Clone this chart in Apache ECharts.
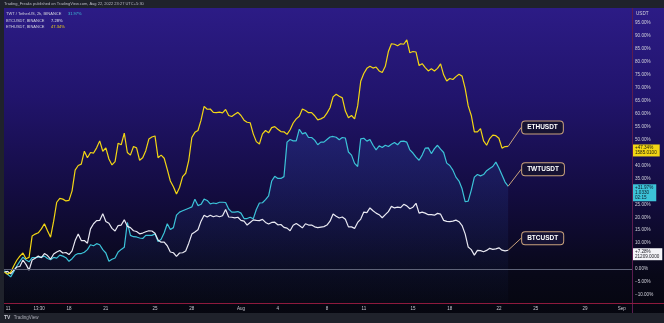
<!DOCTYPE html>
<html>
<head>
<meta charset="utf-8">
<script src="https://cdn.jsdelivr.net/npm/echarts@6.0.0/dist/echarts.min.js"></script>
<style>
  html, body { margin: 0; padding: 0; background: #1f222b; }
  #chart { width: 664px; height: 323px; }
</style>
</head>
<body>
<div id="chart"></div>
<script>
// Percent change since the first bar, one value every 6 hours.
// Time is counted in hours from "July 0" 00:00 (UTC+5:30), so Jul 18 00:00 = 432.
const START_HOUR = 306;
const STEP_HOURS = 6;

const twtChange = [
  -0.6,-2.0,-3.0,-1.0,1.2,3.0,4.6,3.5,2.8,4.4,
  4.4,4.6,4.6,5.0,4.1,3.6,4.5,4.2,5.4,5.0,
  4.4,3.0,4.0,5.4,6.0,6.0,6.5,7.5,9.4,9.0,
  9.8,9.4,7.5,6.2,3.0,3.8,4.3,6.6,7.6,8.4,
  18.0,13.0,12.5,12.4,12.0,11.8,13.0,13.0,13.0,13.6,
  10.6,11.5,14.0,17.5,15.3,16.0,20.8,22.0,22.5,23.0,
  23.5,24.0,27.0,24.5,25.0,27.0,26.5,25.2,25.5,25.3,
  25.8,25.8,25.7,23.2,22.0,22.0,22.2,21.6,19.5,19.5,
  20.0,19.4,23.0,25.5,25.6,26.8,28.3,34.0,35.8,35.0,
  35.0,35.7,49.0,50.0,49.5,49.5,54.0,52.2,52.7,50.8,
  50.8,49.8,48.0,49.0,49.0,50.0,51.0,51.2,50.9,49.9,
  50.8,50.6,45.2,44.0,40.8,39.6,50.3,50.5,49.4,50.0,
  47.8,46.0,47.6,46.9,47.8,47.3,48.2,48.9,48.0,49.3,
  49.4,49.0,46.0,44.8,43.2,42.0,44.0,46.7,46.8,44.6,
  46.5,47.8,46.3,45.0,40.9,40.0,38.2,35.5,34.0,31.0,
  26.0,26.2,30.5,35.5,36.5,36.0,36.5,38.0,38.8,39.6,
  41.3,39.0,36.3,33.6,31.97
];

const btcChange = [
  -1.2,-0.9,-1.8,-0.5,0.8,1.0,3.5,1.8,-0.4,3.5,
  4.2,5.0,4.4,6.0,5.2,3.8,5.8,6.6,7.2,6.2,
  6.4,5.6,7.0,11.0,13.5,11.0,11.0,10.0,15.5,17.5,
  18.7,18.8,21.4,18.4,17.7,15.7,14.7,16.8,17.0,19.0,
  16.5,16.0,14.8,14.5,13.6,13.9,14.4,14.8,14.7,13.8,
  11.2,10.4,10.4,9.0,6.6,6.3,4.9,6.2,6.3,7.0,
  10.0,13.5,14.3,15.2,18.5,20.8,20.1,20.8,20.2,20.6,
  20.2,20.6,23.0,20.1,20.0,19.8,20.0,18.8,18.5,17.0,
  18.0,19.0,18.8,18.7,19.2,18.0,17.4,18.0,18.1,17.1,
  17.2,16.1,15.8,14.8,16.9,17.6,16.8,15.9,17.5,17.0,
  17.0,16.3,16.0,16.2,16.4,17.0,18.5,21.3,20.4,19.7,
  20.1,19.2,16.3,16.3,15.7,18.0,19.3,22.0,21.8,23.6,
  22.5,21.6,21.0,19.8,21.0,22.2,24.2,23.6,23.9,23.7,
  25.0,24.4,23.3,23.9,25.4,21.6,22.0,21.6,21.0,21.0,
  20.8,21.5,21.2,18.8,18.4,18.3,18.5,18.9,18.3,16.8,
  13.6,8.5,7.5,5.4,7.2,7.1,6.7,7.2,8.0,7.6,
  7.8,8.2,7.3,7.0,7.28
];

const ethChange = [
  -1.2,-2.0,-1.2,1.2,3.4,5.0,6.2,4.0,4.5,12.8,
  13.5,14.0,15.5,17.5,14.8,12.3,18.5,25.8,27.3,27.0,
  26.3,26.5,30.2,38.2,40.0,40.5,45.5,43.0,45.0,44.8,
  46.8,49.5,45.5,46.8,42.5,40.2,41.5,48.6,48.0,52.5,
  45.0,44.0,47.3,46.8,42.0,43.0,45.7,50.2,51.0,51.4,
  43.0,44.0,42.8,38.5,34.0,31.8,29.0,31.5,35.7,37.0,
  42.0,50.8,52.8,53.5,57.5,62.8,61.7,61.8,60.5,60.4,
  60.6,60.3,61.6,59.3,58.9,59.8,60.5,59.3,57.5,56.7,
  56.5,52.2,49.2,48.3,52.2,53.5,52.6,54.6,55.0,54.0,
  53.1,53.0,52.0,53.8,56.4,58.0,59.0,61.8,61.2,60.4,
  60.4,59.2,57.6,58.0,58.6,60.2,62.3,66.5,67.5,66.7,
  66.1,61.0,58.4,59.3,58.0,63.0,72.5,75.5,77.5,78.3,
  77.6,78.0,76.5,75.9,78.3,84.0,87.0,86.8,86.2,87.0,
  86.8,88.5,83.5,84.0,83.8,78.6,79.3,77.8,76.5,77.3,
  76.5,77.5,79.2,75.0,72.6,73.6,73.2,74.3,75.2,74.5,
  69.8,63.0,59.3,53.0,53.0,54.2,49.5,47.8,50.4,51.7,
  51.5,50.5,46.7,47.3,47.34
];

// Last traded price / extra line shown in each price tag
const twtTagLines = ['1.0330', '02:15'];
const btcTagLines = ['21209.0000'];
const ethTagLines = ['1585.0100'];

// Time-axis labels (hours) and their texts
const xTickHours = [313, 373.5, 432, 504, 600, 672, 768, 840, 936, 1008, 1104, 1176, 1272, 1344, 1440, 1512];
const xTickLabels = ['11', '13:30', '18', '21', '25', '28', 'Aug', '4', '8', '11', '15', '18', '22', '25', '29', 'Sep'];

// Percent-scale labels (values hidden behind price tags are left out)
const yTickValues = [-10, -5, 0, 10, 15, 20, 25, 35, 40, 50, 55, 60, 65, 70, 75, 80, 85, 90, 95];

const FONT = "'Liberation Sans', 'DejaVu Sans', sans-serif";
const TWT_COLOR = '#3cc3d8';
const BTC_COLOR = '#e9e9f2';
const ETH_COLOR = '#f2d614';

const fmtPct = v => (v >= 0 ? '+' : '') + v.toFixed(2) + '%';
const last = arr => arr[arr.length - 1];

// Every point gets a tiny symbol so the final one can carry its callout label.
function buildData(values, calloutText) {
  return values.map((v, i) => {
    const point = [START_HOUR + i * STEP_HOURS, v];
    if (i === values.length - 1) {
      return {
        value: point,
        label: {
          show: true,
          formatter: calloutText,
          position: 'right',
          distance: 0,
          color: '#ffffff',
          fontFamily: FONT,
          fontWeight: 'bold',
          fontSize: 6.5,
          backgroundColor: '#161233',
          borderColor: '#c9a27c',
          borderWidth: 1,
          borderRadius: 3,
          padding: [3, 5, 2, 5]
        },
        labelLine: { show: true }
      };
    }
    return point;
  });
}

function priceTag(value, lines, bg, fg) {
  return {
    yAxis: value,
    lineStyle: { color: 'rgba(0,0,0,0)', width: 0 },
    label: {
      show: true,
      position: 'end',
      distance: 1,
      formatter: [fmtPct(value)].concat(lines).join('\n'),
      backgroundColor: bg,
      color: fg,
      fontFamily: FONT,
      fontSize: 4.6,
      lineHeight: 5,
      padding: [1, 3, 1, 2],
      align: 'left',
      verticalAlign: 'top',
      offset: [0, -2]
    }
  };
}

function lineSeries(name, values, color, calloutDy, extra) {
  return Object.assign({
    name: name,
    type: 'line',
    data: buildData(values, name),
    showSymbol: true,
    showAllSymbol: true,
    symbol: 'circle',
    symbolSize: 0.01,
    clip: false,
    lineStyle: { color: color, width: 1.2 },
    itemStyle: { color: color },
    label: { show: false },
    labelLayout: { dx: 14, dy: calloutDy },
    labelLine: { show: true, lineStyle: { color: '#c9a27c', width: 1 } },
    emphasis: { disabled: true },
    silent: true
  }, extra || {});
}

const chart = echarts.init(document.getElementById('chart'), null, { renderer: 'canvas', width: 664, height: 323 });

const option = {
  animation: false,
  backgroundColor: {
    type: 'linear', x: 0, y: 0, x2: 0, y2: 1,
    colorStops: [
      { offset: 0.00, color: '#2d1c88' },
      { offset: 0.30, color: '#21146c' },
      { offset: 0.60, color: '#130c40' },
      { offset: 0.85, color: '#080818' },
      { offset: 1.00, color: '#05060d' }
    ]
  },
  grid: { left: 4, right: 32, top: 8, bottom: 20, containLabel: false },
  xAxis: {
    type: 'value',
    min: 305,
    max: 1532,
    axisLine: { show: false },
    axisTick: { show: false },
    splitLine: { show: false },
    axisLabel: {
      customValues: xTickHours,
      formatter: v => {
        const i = xTickHours.indexOf(v);
        return i >= 0 ? xTickLabels[i] : '';
      },
      color: '#c9c9d2',
      fontFamily: FONT,
      fontSize: 4.5,
      margin: 3
    }
  },
  yAxis: {
    type: 'value',
    position: 'right',
    min: -13.1,
    max: 100.8,
    axisLine: { show: false },
    axisTick: { show: false },
    splitLine: { show: false },
    axisLabel: {
      customValues: yTickValues,
      formatter: v => (v < 0 ? '\u2212' : '') + Math.abs(v).toFixed(2) + '%',
      color: '#d2d2dc',
      fontFamily: FONT,
      fontSize: 4.6,
      align: 'left',
      margin: 3
    }
  },
  series: [
    lineSeries('TWTUSDT', twtChange, TWT_COLOR, -17, {
      z: 2,
      areaStyle: {
        origin: 'start',
        color: {
          type: 'linear', x: 0, y: 0, x2: 0, y2: 1,
          colorStops: [
            { offset: 0, color: 'rgba(50,90,190,0.32)' },
            { offset: 1, color: 'rgba(50,90,190,0.03)' }
          ]
        }
      },
      markLine: {
        silent: true,
        symbol: ['none', 'none'],
        animation: false,
        data: [
          { yAxis: 0, lineStyle: { color: '#5f6378', width: 1, type: 'solid' }, label: { show: false } },
          priceTag(last(twtChange), twtTagLines, '#3cc3d8', '#0c1a2a')
        ]
      }
    }),
    lineSeries('BTCUSDT', btcChange, BTC_COLOR, -12, {
      z: 3,
      markLine: {
        silent: true,
        symbol: ['none', 'none'],
        animation: false,
        data: [priceTag(last(btcChange), btcTagLines, '#f4f4f8', '#1a1a22')]
      }
    }),
    lineSeries('ETHUSDT', ethChange, ETH_COLOR, -19, {
      z: 4,
      markLine: {
        silent: true,
        symbol: ['none', 'none'],
        animation: false,
        data: [priceTag(last(ethChange), ethTagLines, '#f2d614', '#1a1a10')]
      }
    })
  ],
  graphic: [
    // frame bars
    { type: 'rect', z: 100, shape: { x: 0, y: 0, width: 664, height: 8 }, style: { fill: '#1f222b' }, silent: true },
    { type: 'rect', z: 100, shape: { x: 0, y: 8, width: 4, height: 305 }, style: { fill: '#1f222b' }, silent: true },
    { type: 'rect', z: 100, shape: { x: 0, y: 313, width: 664, height: 10 }, style: { fill: '#1f222b' }, silent: true },
    // pane separators
    { type: 'line', z: 90, shape: { x1: 632.5, y1: 8, x2: 632.5, y2: 313 }, style: { stroke: '#5b1c4f', lineWidth: 1 }, silent: true },
    { type: 'line', z: 90, shape: { x1: 4, y1: 303.5, x2: 664, y2: 303.5 }, style: { stroke: '#8e1a3d', lineWidth: 1 }, silent: true },
    // header
    {
      type: 'text', z: 101, x: 4, y: 4,
      style: {
        text: 'Trading_Freaks published on TradingView.com, Aug 22, 2022 23:27 UTC+5:30',
        fill: '#b9bac4', font: '4px ' + FONT, verticalAlign: 'middle'
      }, silent: true
    },
    // legend
    {
      type: 'text', z: 101, x: 6, y: 14,
      style: {
        text: '{n|TWT / TetherUS, 2h, BINANCE}  {v|' + last(twtChange).toFixed(2) + '%}',
        verticalAlign: 'middle',
        rich: {
          n: { fill: '#d4d4de', fontSize: 4, fontFamily: FONT },
          v: { fill: TWT_COLOR, fontSize: 4, fontFamily: FONT }
        }
      }, silent: true
    },
    {
      type: 'text', z: 101, x: 6, y: 20.5,
      style: {
        text: '{n|BTCUSDT, BINANCE}  {v|' + last(btcChange).toFixed(2) + '%}',
        verticalAlign: 'middle',
        rich: {
          n: { fill: '#d4d4de', fontSize: 4, fontFamily: FONT },
          v: { fill: BTC_COLOR, fontSize: 4, fontFamily: FONT }
        }
      }, silent: true
    },
    {
      type: 'text', z: 101, x: 6, y: 27,
      style: {
        text: '{n|ETHUSDT, BINANCE}  {v|' + last(ethChange).toFixed(2) + '%}',
        verticalAlign: 'middle',
        rich: {
          n: { fill: '#d4d4de', fontSize: 4, fontFamily: FONT },
          v: { fill: ETH_COLOR, fontSize: 4, fontFamily: FONT }
        }
      }, silent: true
    },
    // price-scale currency
    {
      type: 'text', z: 101, x: 636, y: 14,
      style: { text: 'USDT', fill: '#d2d2dc', font: '4.6px ' + FONT, verticalAlign: 'middle' }, silent: true
    },
    // footer brand
    {
      type: 'text', z: 101, x: 4, y: 318,
      style: {
        text: '{l|TV} {t|TradingView}',
        verticalAlign: 'middle',
        rich: {
          l: { fill: '#c8c9d2', fontSize: 5, fontWeight: 'bold', fontFamily: FONT },
          t: { fill: '#a9aab4', fontSize: 4.5, fontFamily: FONT }
        }
      }, silent: true
    }
  ]
};

chart.setOption(option);
</script>
</body>
</html>
